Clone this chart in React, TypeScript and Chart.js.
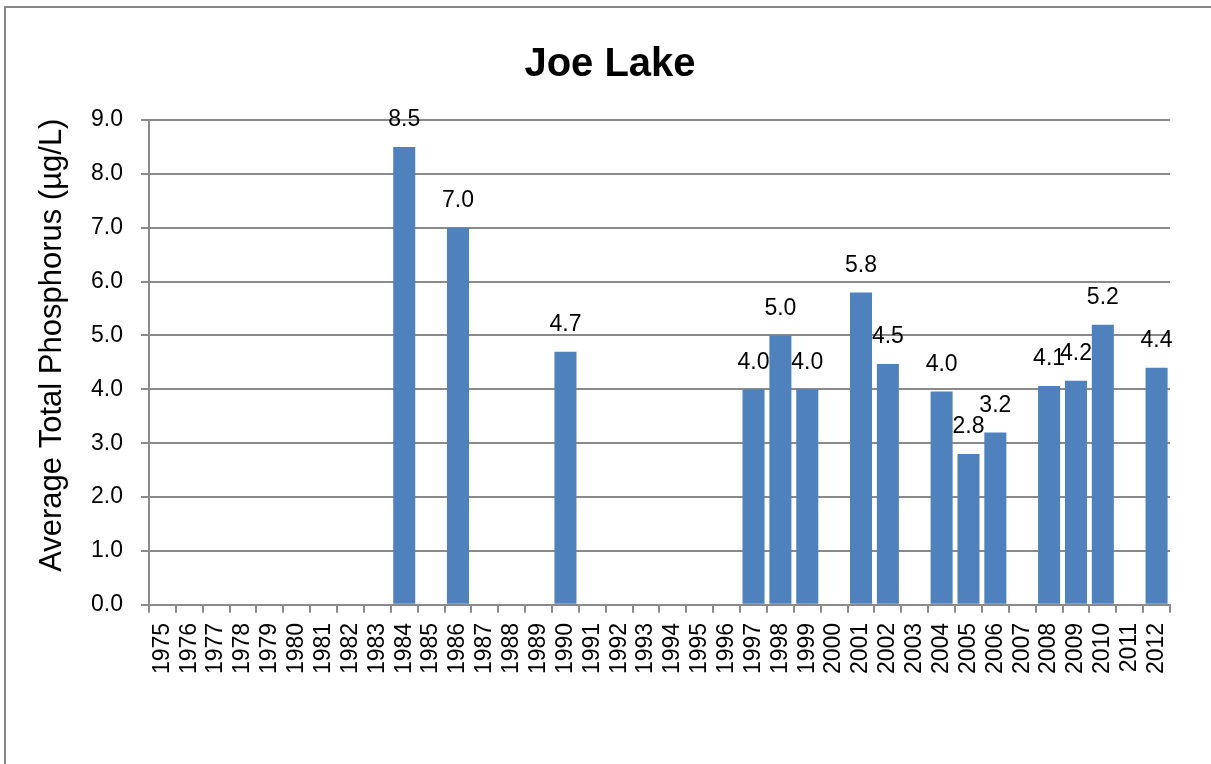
import React, { useEffect, useRef } from 'react';
import { Chart, registerables } from 'chart.js';

Chart.register(...registerables);

const FONT = '"Liberation Sans", Arial, sans-serif';

const years: string[] = [
  '1975', '1976', '1977', '1978', '1979', '1980', '1981', '1982', '1983', '1984',
  '1985', '1986', '1987', '1988', '1989', '1990', '1991', '1992', '1993', '1994',
  '1995', '1996', '1997', '1998', '1999', '2000', '2001', '2002', '2003', '2004',
  '2005', '2006', '2007', '2008', '2009', '2010', '2011', '2012',
];

const phosphorus: (number | null)[] = [
  null, null, null, null, null, null, null, null, null, 8.5,
  null, 7.0, null, null, null, 4.7, null, null, null, null,
  null, null, 4.0, 5.0, 4.0, null, 5.8, 4.47, null, 3.96,
  2.8, 3.2, null, 4.06, 4.16, 5.2, null, 4.4,
];

const chartTitle = 'Joe Lake';
const yAxisTitle = 'Average Total Phosphorus (µg/L)';
const yMin = 0;
const yMax = 9;
const yStep = 1;

const valueLabels = {
  id: 'valueLabels',
  afterDatasetsDraw(chart: any) {
    const ctx = chart.ctx;
    const meta = chart.getDatasetMeta(0);
    ctx.save();
    ctx.font = `23px ${FONT}`;
    ctx.fillStyle = '#000';
    ctx.textAlign = 'center';
    ctx.textBaseline = 'middle';
    meta.data.forEach((bar: any, i: number) => {
      const v = phosphorus[i];
      if (v == null) return;
      ctx.fillText(v.toFixed(1), bar.x, bar.y - 27);
    });
    ctx.restore();
  },
};

export default function App() {
  const ref = useRef<HTMLCanvasElement>(null);

  useEffect(() => {
    document.body.style.margin = '0';
    document.body.style.overflow = 'hidden';
    const canvas = ref.current;
    if (!canvas) return;
    const grid = '#8a8a8a';
    const chart = new Chart(canvas, {
      type: 'bar',
      data: {
        labels: years,
        datasets: [
          {
            data: phosphorus as any,
            backgroundColor: '#4F81BD',
            borderWidth: 0,
            barPercentage: 0.82,
            categoryPercentage: 1,
          },
        ],
      },
      options: {
        animation: false,
        responsive: false,
        devicePixelRatio: 1,
        layout: { padding: { left: 44, right: 41, top: 0, bottom: 80 } },
        plugins: {
          legend: { display: false },
          tooltip: { enabled: false },
          title: {
            display: true,
            text: chartTitle,
            color: '#000',
            font: { family: FONT, size: 40, weight: 'bold', lineHeight: 1.2 },
            padding: { top: 33, bottom: 31 },
          },
        },
        scales: {
          x: {
            grid: {
              display: true,
              drawOnChartArea: false,
              drawTicks: true,
              tickLength: 8,
              color: grid,
              lineWidth: 2,
              offset: true,
            },
            border: { display: true, color: grid, width: 2 },
            ticks: {
              autoSkip: false,
              maxRotation: 90,
              minRotation: 90,
              padding: 10,
              color: '#000',
              font: { family: FONT, size: 23 },
            },
          },
          y: {
            min: yMin,
            max: yMax,
            grid: { color: grid, lineWidth: 2, tickLength: 8 },
            border: { display: true, color: grid, width: 2 },
            ticks: {
              stepSize: yStep,
              padding: 18,
              color: '#000',
              font: { family: FONT, size: 23 },
              callback: (v: any) => Number(v).toFixed(1),
            },
            title: {
              display: true,
              text: '    ' + yAxisTitle,
              color: '#000',
              font: { family: FONT, size: 31, lineHeight: 1.2 },
              padding: { top: -16.6, bottom: 2.4 },
            },
          },
        },
      },
      plugins: [valueLabels],
    });
    return () => chart.destroy();
  }, []);

  return (
    <div style={{ position: 'relative', width: 1211, height: 764, overflow: 'hidden', background: '#fff' }}>
      <div
        style={{
          position: 'absolute',
          left: 4,
          top: 6,
          width: 1400,
          height: 1000,
          borderLeft: '2px solid #878787',
          borderTop: '2px solid #878787',
        }}
      />
      <canvas
        ref={ref}
        width={1205}
        height={756}
        style={{ position: 'absolute', left: 6, top: 8, width: 1205, height: 756 }}
      />
    </div>
  );
}
